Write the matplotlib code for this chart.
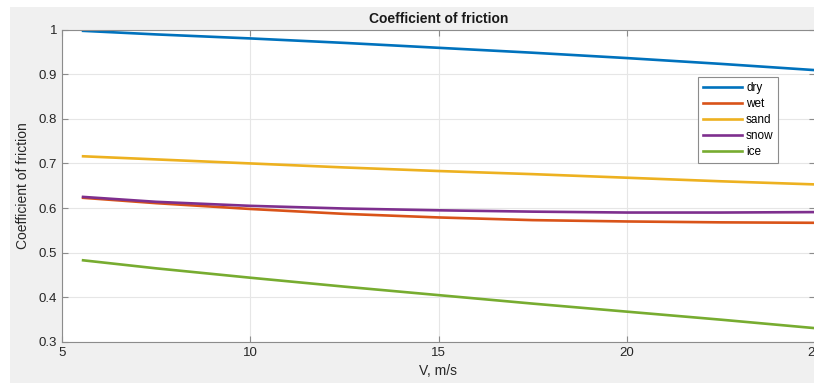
import matplotlib.pyplot as plt
from matplotlib.patches import Rectangle

plt.rcParams['font.family'] = ['Liberation Sans Narrow', 'Liberation Sans', 'DejaVu Sans']

# data
V = [5.56, 7.5, 10, 12.5, 15, 17.5, 20, 22.5, 25]
dry = [0.997, 0.989, 0.980, 0.970, 0.959, 0.948, 0.936, 0.923, 0.909]
wet = [0.623, 0.611, 0.598, 0.587, 0.579, 0.573, 0.570, 0.568, 0.567]
sand = [0.716, 0.709, 0.700, 0.691, 0.683, 0.676, 0.668, 0.660, 0.653]
snow = [0.625, 0.614, 0.605, 0.599, 0.595, 0.592, 0.590, 0.590, 0.591]
ice = [0.483, 0.465, 0.444, 0.424, 0.405, 0.386, 0.368, 0.350, 0.331]

names = ['dry', 'wet', 'sand', 'snow', 'ice']
series = [dry, wet, sand, snow, ice]
colors = ['#0072BD', '#D95319', '#EDB120', '#7E2F8E', '#77AC30']

W, H = 814, 383
fig = plt.figure(figsize=(W/100, H/100), dpi=100, facecolor='white')
# grey matlab figure background (screenshot is cropped, white strip top/left)
fig.patches.append(Rectangle((10/W, 0), 1, 1 - 7/H, transform=fig.transFigure,
                             facecolor='#F0F0F0', edgecolor='none', zorder=-10))

ax = fig.add_axes([62/W, 1 - 342/H, 753/W, 312.5/H])
ax.set_facecolor('white')

for name, y, c in zip(names, series, colors):
    ax.plot(V, y, color=c, lw=1.9, label=name)

ax.set_xlim(5, 25)
ax.set_ylim(0.3, 1)
ax.set_xticks([5, 10, 15, 20, 25])
ax.set_yticks([0.3, 0.4, 0.5, 0.6, 0.7, 0.8, 0.9, 1])
ax.set_yticklabels(['0.3', '0.4', '0.5', '0.6', '0.7', '0.8', '0.9', '1'])
ax.grid(True, color='#E6E6E6', lw=0.8)
ax.set_axisbelow(True)
ax.tick_params(direction='in', length=4, colors='#8C8C8C', labelcolor='#262626',
               labelsize=9.5, top=True, right=True)
for s in ax.spines.values():
    s.set_color('#8C8C8C')

ax.set_title('Coefficient of friction', fontsize=10, fontweight='bold', color='#1a1a1a', pad=5)
ax.set_xlabel('V, m/s', fontsize=10, color='#262626', labelpad=4)
ax.set_ylabel('Coefficient of friction', fontsize=10, color='#262626', labelpad=6)

leg = ax.legend(loc='upper left', bbox_to_anchor=(0.845, 0.848), fontsize=8.5,
                handlelength=3.3, fancybox=False, framealpha=1, edgecolor='#8C8C8C',
                labelspacing=0.35, borderpad=0.4, handletextpad=0.35, borderaxespad=0)
leg.get_frame().set_linewidth(0.8)

fig.savefig('out.png', dpi=100, facecolor=fig.get_facecolor())
